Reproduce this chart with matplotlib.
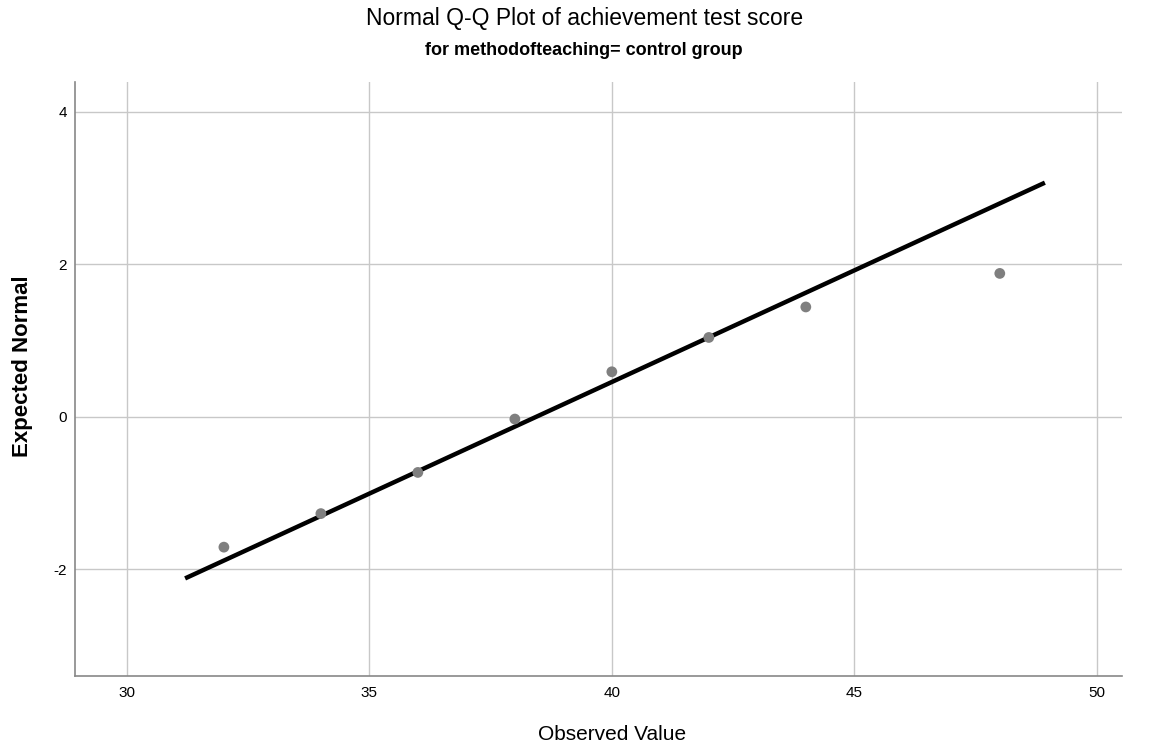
import matplotlib.pyplot as plt

# observed scores and their expected normal values
observed = [32, 34, 36, 38, 40, 42, 44, 48]
expected = [-1.71, -1.27, -0.73, -0.03, 0.59, 1.04, 1.44, 1.88]

# reference line end points
line_x = [31.2, 48.93]
line_y = [-2.12, 3.07]

x_ticks = [30, 35, 40, 45, 50]
y_ticks = [-2, 0, 2, 4]

plt.rcParams['font.family'] = ['Liberation Sans', 'DejaVu Sans']
plt.rcParams['axes.unicode_minus'] = False

fig = plt.figure(figsize=(11.74, 7.45), dpi=100)
ax = fig.add_axes([0.0639, 0.0926, 0.8918, 0.7973])

ax.plot(line_x, line_y, color="black", linewidth=3.2, solid_capstyle="butt", zorder=3)
ax.scatter(observed, expected, s=60, color="#7f7f7f", edgecolors="none", zorder=4)

ax.set_xlim(28.93, 50.52)
ax.set_ylim(-3.4, 4.39)
ax.set_xticks(x_ticks)
ax.set_yticks(y_ticks)
ax.grid(True, color="#c8c8c8", linewidth=1)
ax.set_axisbelow(True)
for s in ["top", "right"]:
    ax.spines[s].set_visible(False)
for s in ["left", "bottom"]:
    ax.spines[s].set_color("#888888")
    ax.spines[s].set_linewidth(1.2)
ax.tick_params(length=0, labelsize=11)
ax.tick_params(axis="x", pad=7)
ax.tick_params(axis="y", pad=6)

fig.text(0.521, 0.002, "Observed Value", ha="center", va="bottom", fontsize=15)
fig.text(0.019, 0.508, "Expected Normal", ha="center", va="center", rotation=90,
         fontsize=16, fontweight="bold")

fig.text(0.4975, 0.975, "Normal Q-Q Plot of achievement test score", ha="center", va="center", fontsize=16.5)
fig.text(0.4975, 0.932, "for methodofteaching= control group", ha="center", va="center",
         fontsize=13, fontweight="bold")

fig.savefig("out.png", dpi=100)
